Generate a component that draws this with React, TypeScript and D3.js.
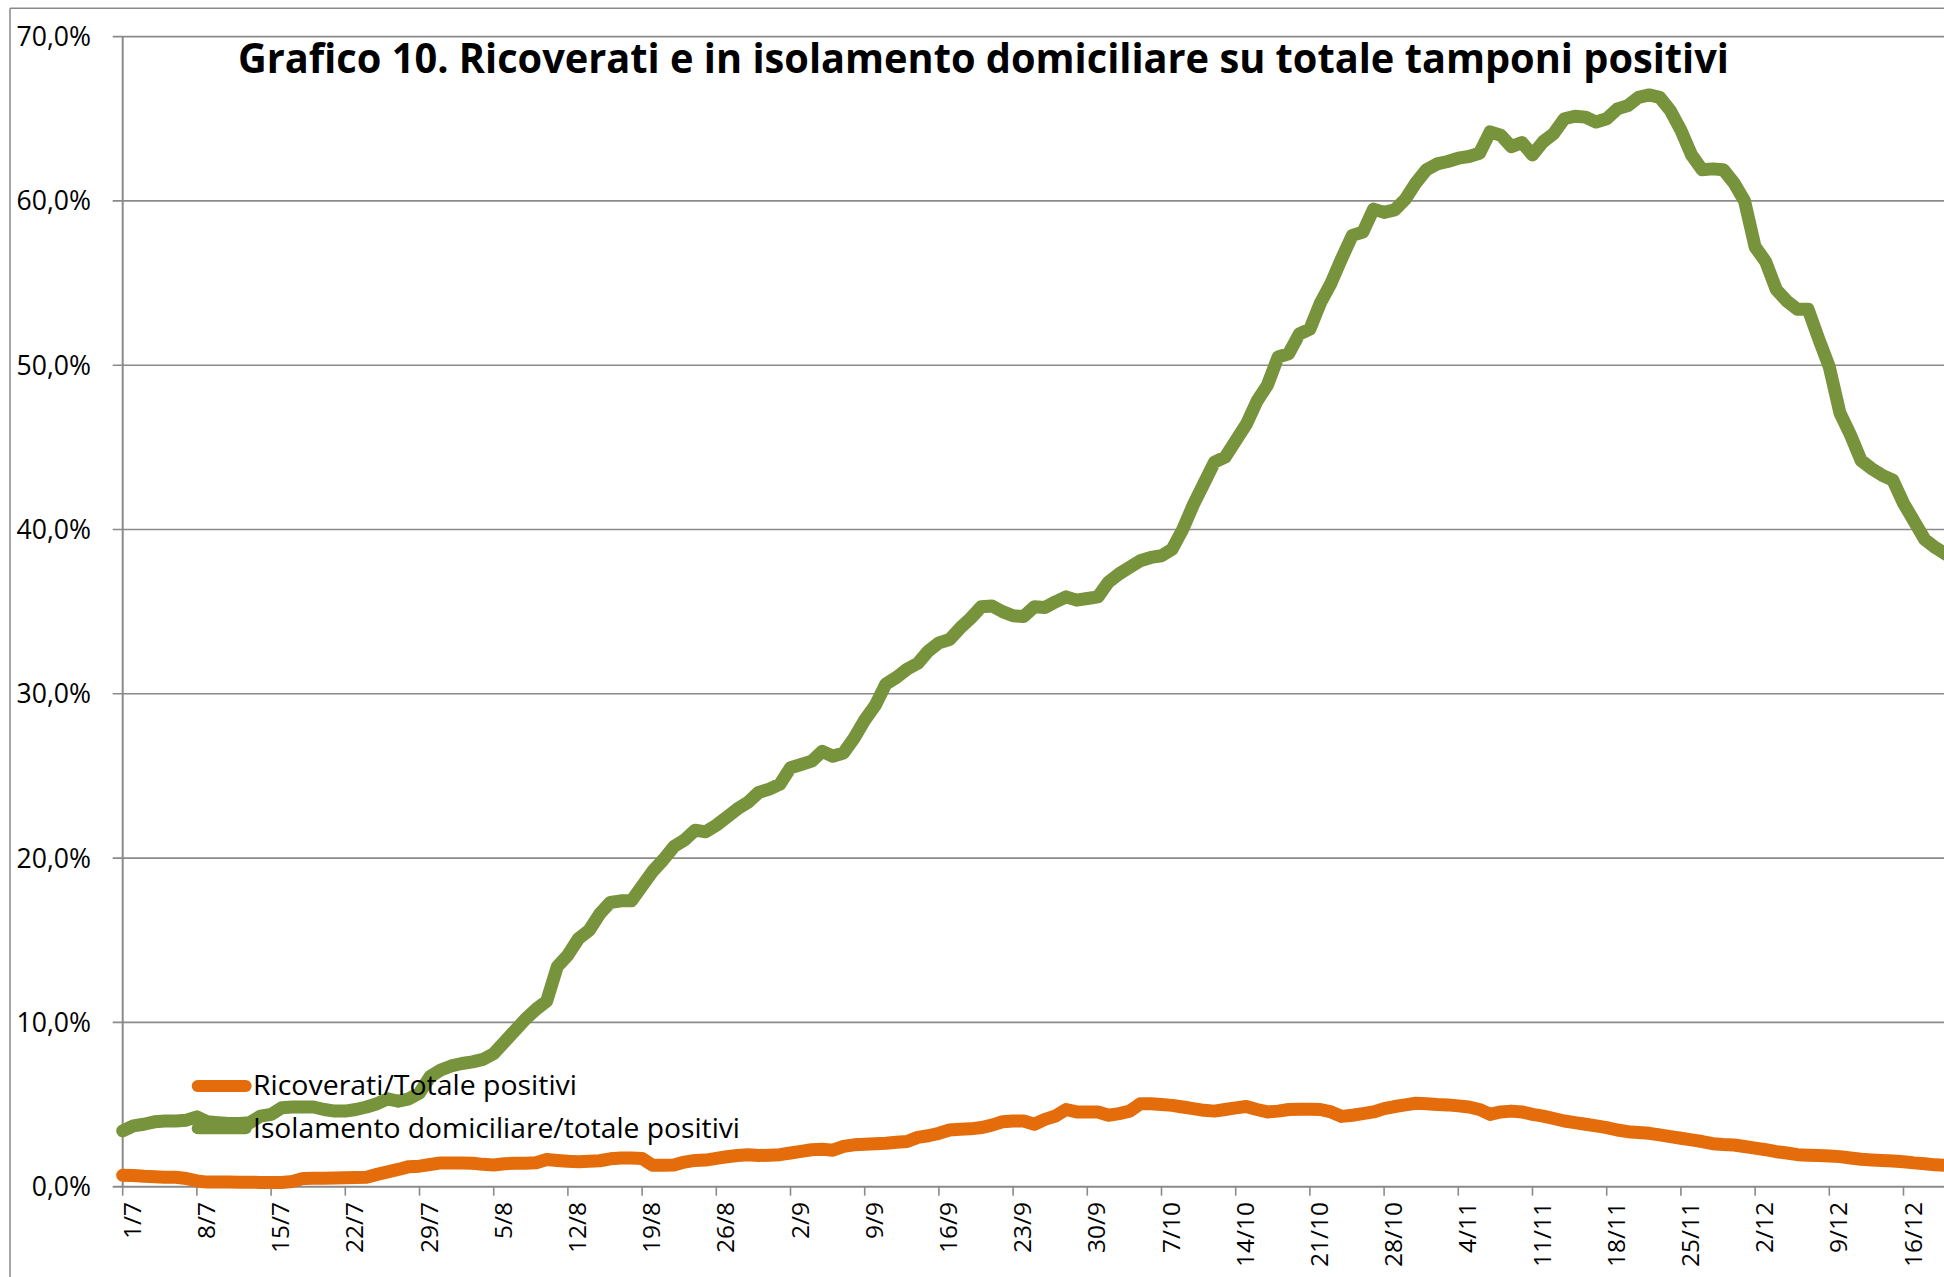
import React from 'react';
import * as d3 from 'd3';

const tickLabels = ['1/7','8/7','15/7','22/7','29/7','5/8','12/8','19/8','26/8','2/9','9/9','16/9','23/9','30/9','7/10','14/10','21/10','28/10','4/11','11/11','18/11','25/11','2/12','9/12','16/12','23/12'];

const yTicks = [0, 10, 20, 30, 40, 50, 60, 70];

const seriesNames = ['Ricoverati/Totale positivi', 'Isolamento domiciliare/totale positivi'];

// daily values from 1/7, percent
const ricoverati = [
  0.7,0.68,0.63,0.6,0.57,0.57,0.5,0.35,0.28,0.28,
  0.28,0.27,0.27,0.26,0.25,0.26,0.32,0.5,0.52,0.52,
  0.53,0.55,0.56,0.57,0.75,0.9,1.05,1.22,1.25,1.35,
  1.45,1.45,1.44,1.43,1.36,1.32,1.4,1.42,1.43,1.46,
  1.66,1.6,1.55,1.52,1.55,1.58,1.7,1.75,1.75,1.72,
  1.3,1.3,1.32,1.5,1.6,1.62,1.72,1.82,1.9,1.95,
  1.9,1.92,1.95,2.05,2.15,2.25,2.28,2.22,2.45,2.55,
  2.58,2.62,2.65,2.7,2.75,3.0,3.1,3.25,3.45,3.5,
  3.52,3.6,3.75,3.95,4.0,4.0,3.8,4.1,4.3,4.7,
  4.55,4.55,4.55,4.35,4.45,4.6,5.05,5.05,5.0,4.95,
  4.85,4.75,4.65,4.6,4.7,4.8,4.88,4.7,4.55,4.6,
  4.7,4.72,4.72,4.7,4.55,4.28,4.35,4.45,4.55,4.75,
  4.88,4.98,5.08,5.05,5.0,4.98,4.92,4.85,4.7,4.4,
  4.55,4.6,4.55,4.4,4.3,4.15,4.0,3.9,3.8,3.7,
  3.6,3.45,3.35,3.3,3.25,3.15,3.05,2.95,2.85,2.75,
  2.62,2.57,2.54,2.45,2.35,2.25,2.13,2.05,1.95,1.92,
  1.9,1.87,1.83,1.75,1.67,1.63,1.6,1.57,1.52,1.45,
  1.4,1.33,1.3
];

const isolamento = [
  3.4,3.7,3.8,3.95,4.0,4.0,4.05,4.25,3.95,3.9,
  3.85,3.85,3.9,4.3,4.4,4.8,4.85,4.85,4.85,4.7,
  4.6,4.6,4.7,4.85,5.05,5.35,5.2,5.35,5.7,6.7,
  7.1,7.35,7.5,7.6,7.75,8.1,8.8,9.5,10.2,10.8,
  11.3,13.4,14.1,15.1,15.6,16.6,17.3,17.4,17.4,18.3,
  19.2,19.9,20.7,21.1,21.7,21.6,22.0,22.5,23.0,23.4,
  24.0,24.2,24.5,25.5,25.7,25.9,26.5,26.2,26.4,27.3,
  28.4,29.3,30.6,31.0,31.5,31.85,32.6,33.1,33.3,34.0,
  34.6,35.3,35.35,35.0,34.75,34.7,35.3,35.25,35.6,35.9,
  35.7,35.8,35.9,36.8,37.3,37.7,38.1,38.3,38.4,38.8,
  40.0,41.5,42.8,44.1,44.4,45.4,46.4,47.8,48.8,50.5,
  50.7,51.9,52.2,53.8,55.0,56.5,57.9,58.1,59.5,59.3,
  59.45,60.1,61.1,61.9,62.25,62.4,62.6,62.7,62.9,64.2,
  64.0,63.3,63.55,62.8,63.6,64.1,65.0,65.15,65.1,64.8,
  65.0,65.6,65.8,66.3,66.45,66.3,65.5,64.3,62.8,61.9,
  61.95,61.9,61.1,60.0,57.2,56.3,54.6,53.9,53.4,53.4,
  51.6,49.9,47.1,45.75,44.2,43.7,43.3,43.0,41.6,40.5,
  39.4,38.9,38.5
];

const ORANGE = '#E46C0A';
const GREEN = '#77933C';
const GRID = '#8a8a8a';
const FONT = "'Open Sans', 'DejaVu Sans', sans-serif";

export default function App() {
  const W = 1944, H = 1277;
  const x0 = 122.7;
  const dayW = 10.6;
  const x = d3.scaleLinear().domain([0, 7]).range([x0, x0 + 7 * dayW]);
  const y = d3.scaleLinear().domain([0, 70]).range([1186.7, 36.6]);
  const line = d3.line<number>().x((_, i) => x(i)).y((d) => y(d)).curve(d3.curveLinear);

  return (
    <svg width={W} height={H} style={{ position: 'absolute', left: 0, top: 0, background: '#fff' }}
      xmlns="http://www.w3.org/2000/svg">
      <rect x={0} y={0} width={W} height={H} fill="#fff" />
      {/* outer frame */}
      <line x1={10} y1={8.3} x2={W} y2={8.3} stroke={GRID} strokeWidth={1.5} />
      <line x1={10} y1={8.3} x2={10} y2={H} stroke={GRID} strokeWidth={1.5} />

      {/* gridlines & y ticks */}
      {yTicks.map((v) => (
        <g key={v}>
          <line x1={112.7} x2={W} y1={y(v)} y2={y(v)} stroke={GRID} strokeWidth={v === 0 ? 2 : 1.6} />
          <text x={91} y={y(v) + 9.5} textAnchor="end" fontFamily={FONT} fontSize={26.6} fill="#000">
            {v.toFixed(1).replace('.', ',')}%
          </text>
        </g>
      ))}
      {/* y axis */}
      <line x1={x0} x2={x0} y1={y(70)} y2={y(0)} stroke={GRID} strokeWidth={2} />

      {/* x ticks & labels */}
      {tickLabels.map((lab, k) => {
        const tx = x(7 * k);
        if (tx > W + 20) return null;
        return (
          <g key={lab}>
            <line x1={tx} x2={tx} y1={y(0)} y2={y(0) + 9} stroke={GRID} strokeWidth={1.6} />
            <text transform={`translate(${tx + 18},1202) rotate(-90)`} textAnchor="end"
              fontFamily={FONT} fontSize={24.5} fill="#000">{lab}</text>
          </g>
        );
      })}

      <defs>
        <clipPath id="plotclip">
          <rect x={0} y={0} width={W} height={H} />
        </clipPath>
      </defs>
      <g clipPath="url(#plotclip)">
        <path d={line(ricoverati) || ''} fill="none" stroke={ORANGE} strokeWidth={13}
          strokeLinejoin="round" strokeLinecap="round" />
        <path d={line(isolamento) || ''} fill="none" stroke={GREEN} strokeWidth={13}
          strokeLinejoin="round" strokeLinecap="round" />
      </g>

      {/* legend */}
      <line x1={197.7} x2={245.7} y1={1086} y2={1086} stroke={ORANGE} strokeWidth={12} strokeLinecap="round" />
      <text x={253} y={1095} fontFamily={FONT} fontSize={28} fill="#000" textLength={324} lengthAdjust="spacingAndGlyphs">
        {seriesNames[0]}
      </text>
      <line x1={197.7} x2={245.7} y1={1128.3} y2={1128.3} stroke={GREEN} strokeWidth={12} strokeLinecap="round" />
      <text x={253} y={1138.3} fontFamily={FONT} fontSize={28} fill="#000" textLength={487} lengthAdjust="spacingAndGlyphs">
        {seriesNames[1]}
      </text>

      {/* title */}
      <text x={238} y={73.3} fontFamily={FONT} fontWeight="bold" fontSize={41} fill="#000"
        textLength={1491} lengthAdjust="spacingAndGlyphs">
        Grafico 10. Ricoverati e in isolamento domiciliare su totale tamponi positivi
      </text>
    </svg>
  );
}
